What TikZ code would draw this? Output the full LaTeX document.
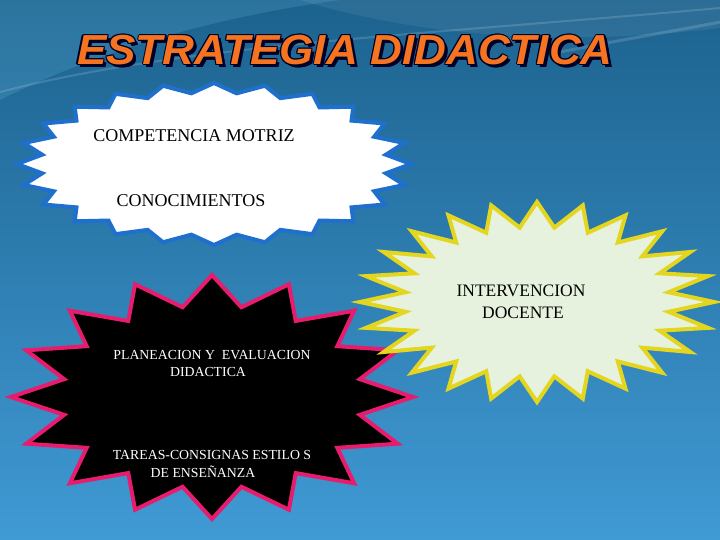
\documentclass[tikz,border=0pt]{standalone}
\usepackage{fontspec}
\setmainfont{Liberation Serif}
\newfontfamily\titlefont{Liberation Sans}
\definecolor{bgtop}{RGB}{28,98,142}
\definecolor{bgbot}{RGB}{64,154,212}
\definecolor{blueline}{RGB}{30,112,204}
\definecolor{yelline}{RGB}{228,214,30}
\definecolor{yelfill}{RGB}{230,242,222}
\definecolor{pinkline}{RGB}{232,28,108}
\definecolor{titleorange}{RGB}{246,116,32}
\newcommand\mystarburst[7]{%
  \draw[#7] ({#1},{#2-#4}) \foreach \k in {1,...,\numexpr2*#5-1\relax}{
    -- ({#1+#3*(1-(1-#6)*mod(\k,2))*cos(90+\k*180/#5)},{#2-#4*(1-(1-#6)*mod(\k,2))*sin(90+\k*180/#5)})} -- cycle;}
\newcommand\mytitle{ESTRATEGIA DIDACTICA}
\tikzset{
  bluestar/.style={draw=blueline, fill=white, line width=4pt, line join=miter},
  yelstar/.style={draw=yelline, fill=yelfill, line width=4pt, line join=miter},
  blackstar/.style={draw=pinkline, fill=black, line width=4pt, line join=miter},
  darktxt/.style={inner sep=0pt, text=black, font=\fontsize{18}{20}\selectfont},
  yeltxt/.style={inner sep=0pt, text=black, font=\fontsize{17.5}{20}\selectfont},
  whitetxt/.style={inner sep=0pt, text=white, font=\fontsize{13.8}{16}\selectfont},
  titletxt/.style={inner sep=0pt, font=\titlefont\bfseries\itshape\fontsize{42}{44}\selectfont}
}
\begin{document}
\begin{tikzpicture}[x=1pt,y=-1pt]
\useasboundingbox (0,0) rectangle (720,540);
% background
\shade[top color=bgtop, bottom color=bgbot] (0,0) rectangle (720,540);
\fill[cyan!50!white, opacity=0.16] (0,100) .. controls (110,45) and (230,15) .. (340,0) -- (0,0) -- cycle;
\fill[white, opacity=0.07] (300,0) .. controls (430,40) and (580,45) .. (720,28) -- (720,0) -- cycle;
\draw[white, opacity=0.15, line width=2pt] (0,92) .. controls (180,45) and (420,35) .. (720,8);
\draw[white, opacity=0.15, line width=3pt] (560,52) .. controls (620,40) and (680,30) .. (720,22);
% title
\foreach \dx/\dy in {2.6/2.6, 3/3, -1.2/0, 1.2/0, 0/-1.2, 0/1.2, -0.9/-0.9, 0.9/0.9, -0.9/0.9, 0.9/-0.9}{
  \node[titletxt, text=black!85!blue] at (345+\dx,50+\dy) {\scalebox{1.05}[1]{\mytitle}};
}
\node[titletxt, text=titleorange] (title) at (345,50) {\scalebox{1.05}[1]{\mytitle}};
% stars
\mystarburst{214}{164}{197}{81}{24}{0.88}{bluestar}
\mystarburst{212}{397}{201}{122}{16}{0.75}{blackstar}
\mystarburst{537}{302}{177}{100}{24}{0.75}{yelstar}
% texts
\node[darktxt] (comp) at (194,136) {COMPETENCIA MOTRIZ};
\node[darktxt] (cono) at (191,201) {CONOCIMIENTOS};
\node[yeltxt] (inter) at (521,291) {INTERVENCION};
\node[yeltxt] (doce) at (523,313) {DOCENTE};
\node[whitetxt] (plan) at (212,355) {PLANEACION Y\ \ EVALUACION};
\node[whitetxt] (dida) at (208,372) {DIDACTICA};
\node[whitetxt] (tare) at (212,455) {TAREAS-CONSIGNAS ESTILO S};
\node[whitetxt] (ense) at (203,472) {DE ENSEÑANZA};
\end{tikzpicture}
\end{document}
